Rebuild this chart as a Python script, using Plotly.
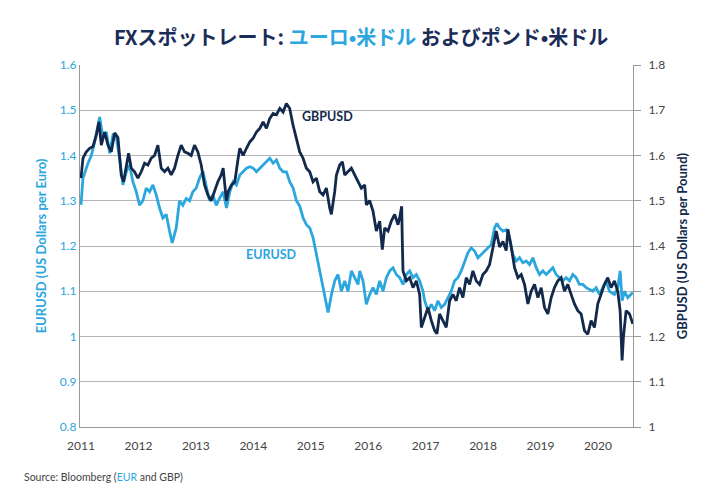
import plotly.graph_objects as go

# ---- data (fractional year, value) ----
eur_x = [2011.000, 2011.035, 2011.122, 2011.180, 2011.238, 2011.296, 2011.325, 2011.383, 2011.441, 2011.499,
         2011.557, 2011.614, 2011.672, 2011.730, 2011.788, 2011.846, 2011.904, 2011.962, 2012.020, 2012.078,
         2012.136, 2012.194, 2012.252, 2012.310, 2012.368, 2012.426, 2012.484, 2012.542, 2012.588, 2012.658,
         2012.716, 2012.774, 2012.832, 2012.890, 2012.948, 2013.006, 2013.064, 2013.122, 2013.180, 2013.238,
         2013.296, 2013.354, 2013.412, 2013.475, 2013.533, 2013.591, 2013.649, 2013.707, 2013.765, 2013.823,
         2013.881, 2013.939, 2013.997, 2014.055, 2014.113, 2014.171, 2014.229, 2014.287, 2014.345, 2014.403,
         2014.461, 2014.519, 2014.576, 2014.634, 2014.693, 2014.751, 2014.809, 2014.867, 2014.925, 2014.983,
         2015.041, 2015.099, 2015.157, 2015.215, 2015.273, 2015.302, 2015.360, 2015.418, 2015.475, 2015.533,
         2015.591, 2015.649, 2015.707, 2015.765, 2015.823, 2015.852, 2015.910, 2015.968, 2016.026, 2016.084,
         2016.142, 2016.200, 2016.258, 2016.316, 2016.374, 2016.432, 2016.490, 2016.548, 2016.606, 2016.664,
         2016.722, 2016.780, 2016.838, 2016.896, 2016.954, 2016.983, 2017.041, 2017.099, 2017.157, 2017.214,
         2017.272, 2017.330, 2017.388, 2017.446, 2017.504, 2017.562, 2017.620, 2017.678, 2017.736, 2017.794,
         2017.852, 2017.910, 2017.968, 2018.026, 2018.084, 2018.142, 2018.200, 2018.240, 2018.287, 2018.345,
         2018.403, 2018.461, 2018.519, 2018.577, 2018.635, 2018.693, 2018.751, 2018.809, 2018.867, 2018.925,
         2018.983, 2019.041, 2019.099, 2019.157, 2019.215, 2019.272, 2019.330, 2019.388, 2019.446, 2019.504,
         2019.562, 2019.620, 2019.678, 2019.736, 2019.794, 2019.852, 2019.910, 2019.968, 2020.026, 2020.084,
         2020.142, 2020.200, 2020.287, 2020.345, 2020.386, 2020.420, 2020.461, 2020.519, 2020.577, 2020.606]
eur_y = [1.291, 1.350, 1.383, 1.400, 1.430, 1.467, 1.485, 1.440, 1.452, 1.405,
         1.445, 1.440, 1.394, 1.335, 1.364, 1.379, 1.342, 1.320, 1.290, 1.300,
         1.328, 1.320, 1.335, 1.313, 1.284, 1.262, 1.270, 1.233, 1.207, 1.240,
         1.300, 1.290, 1.305, 1.300, 1.320, 1.328, 1.350, 1.365, 1.330, 1.300,
         1.313, 1.290, 1.305, 1.320, 1.284, 1.320, 1.342, 1.335, 1.357, 1.364,
         1.372, 1.375, 1.372, 1.364, 1.372, 1.379, 1.386, 1.394, 1.383, 1.390,
         1.372, 1.364, 1.364, 1.342, 1.328, 1.300, 1.288, 1.262, 1.247, 1.240,
         1.218, 1.181, 1.137, 1.108, 1.071, 1.053, 1.093, 1.123, 1.137, 1.100,
         1.123, 1.100, 1.145, 1.130, 1.115, 1.145, 1.123, 1.071, 1.093, 1.108,
         1.093, 1.123, 1.100, 1.130, 1.145, 1.152, 1.137, 1.130, 1.115, 1.137,
         1.145, 1.130, 1.137, 1.123, 1.100, 1.079, 1.057, 1.071, 1.057, 1.079,
         1.064, 1.071, 1.086, 1.100, 1.123, 1.130, 1.145, 1.167, 1.185, 1.196,
         1.189, 1.174, 1.181, 1.189, 1.196, 1.203, 1.240, 1.250, 1.240, 1.233,
         1.236, 1.218, 1.181, 1.167, 1.174, 1.163, 1.167, 1.159, 1.174, 1.152,
         1.137, 1.145, 1.137, 1.145, 1.152, 1.137, 1.130, 1.123, 1.130, 1.123,
         1.137, 1.130, 1.115, 1.115, 1.108, 1.104, 1.100, 1.108, 1.093, 1.108,
         1.123, 1.100, 1.093, 1.108, 1.145, 1.079, 1.100, 1.086, 1.093, 1.097]

gbp_x = [2011.000, 2011.035, 2011.093, 2011.151, 2011.209, 2011.267, 2011.313, 2011.354, 2011.412, 2011.470,
         2011.528, 2011.586, 2011.643, 2011.701, 2011.742, 2011.788, 2011.829, 2011.875, 2011.933, 2011.991,
         2012.049, 2012.107, 2012.165, 2012.223, 2012.281, 2012.339, 2012.397, 2012.455, 2012.513, 2012.571,
         2012.629, 2012.687, 2012.745, 2012.803, 2012.861, 2012.919, 2012.977, 2013.035, 2013.093, 2013.151,
         2013.209, 2013.267, 2013.325, 2013.383, 2013.441, 2013.475, 2013.504, 2013.533, 2013.562, 2013.620,
         2013.678, 2013.707, 2013.736, 2013.765, 2013.823, 2013.881, 2013.939, 2013.997, 2014.055, 2014.113,
         2014.171, 2014.229, 2014.287, 2014.345, 2014.403, 2014.461, 2014.519, 2014.576, 2014.634, 2014.692,
         2014.750, 2014.808, 2014.866, 2014.924, 2014.982, 2015.040, 2015.098, 2015.156, 2015.214, 2015.272,
         2015.330, 2015.359, 2015.417, 2015.447, 2015.504, 2015.551, 2015.591, 2015.649, 2015.707, 2015.765,
         2015.823, 2015.881, 2015.939, 2015.968, 2016.026, 2016.084, 2016.142, 2016.200, 2016.246, 2016.287,
         2016.345, 2016.403, 2016.461, 2016.519, 2016.548, 2016.583, 2016.594, 2016.606, 2016.664, 2016.722,
         2016.780, 2016.838, 2016.896, 2016.925, 2016.983, 2017.041, 2017.099, 2017.157, 2017.197, 2017.243,
         2017.301, 2017.359, 2017.417, 2017.475, 2017.533, 2017.591, 2017.649, 2017.707, 2017.765, 2017.823,
         2017.881, 2017.939, 2017.997, 2018.055, 2018.113, 2018.171, 2018.229, 2018.287, 2018.345, 2018.403,
         2018.432, 2018.490, 2018.548, 2018.606, 2018.664, 2018.722, 2018.780, 2018.838, 2018.896, 2018.954,
         2019.012, 2019.070, 2019.128, 2019.186, 2019.243, 2019.301, 2019.359, 2019.417, 2019.475, 2019.533,
         2019.591, 2019.649, 2019.707, 2019.765, 2019.823, 2019.881, 2019.939, 2019.997, 2020.055, 2020.113,
         2020.171, 2020.229, 2020.287, 2020.345, 2020.386, 2020.420, 2020.443, 2020.490, 2020.548, 2020.606]
gbp_y = [1.550, 1.594, 1.608, 1.616, 1.620, 1.645, 1.674, 1.623, 1.652, 1.623,
         1.608, 1.650, 1.640, 1.557, 1.542, 1.572, 1.605, 1.572, 1.564, 1.550,
         1.564, 1.583, 1.579, 1.594, 1.600, 1.623, 1.572, 1.564, 1.572, 1.557,
         1.572, 1.600, 1.623, 1.608, 1.605, 1.600, 1.623, 1.608, 1.579, 1.535,
         1.513, 1.500, 1.520, 1.542, 1.557, 1.572, 1.535, 1.500, 1.520, 1.535,
         1.542, 1.572, 1.594, 1.616, 1.600, 1.616, 1.630, 1.638, 1.652, 1.660,
         1.674, 1.660, 1.682, 1.693, 1.690, 1.704, 1.696, 1.715, 1.704, 1.667,
         1.638, 1.608, 1.594, 1.572, 1.564, 1.542, 1.550, 1.520, 1.513, 1.528,
         1.484, 1.470, 1.520, 1.557, 1.579, 1.586, 1.557, 1.564, 1.572, 1.557,
         1.542, 1.528, 1.535, 1.491, 1.500, 1.477, 1.433, 1.455, 1.392, 1.440,
         1.433, 1.455, 1.470, 1.447, 1.462, 1.488, 1.410, 1.345, 1.323, 1.330,
         1.308, 1.323, 1.293, 1.220, 1.242, 1.264, 1.235, 1.213, 1.206, 1.250,
         1.235, 1.220, 1.279, 1.293, 1.279, 1.308, 1.286, 1.330, 1.315, 1.345,
         1.323, 1.315, 1.337, 1.345, 1.359, 1.396, 1.433, 1.398, 1.410, 1.390,
         1.437, 1.398, 1.352, 1.330, 1.337, 1.315, 1.272, 1.300, 1.315, 1.286,
         1.308, 1.264, 1.250, 1.286, 1.308, 1.323, 1.330, 1.300, 1.315, 1.293,
         1.272, 1.257, 1.250, 1.213, 1.205, 1.235, 1.220, 1.272, 1.293, 1.315,
         1.330, 1.308, 1.323, 1.300, 1.257, 1.147, 1.198, 1.257, 1.250, 1.228]

year_ticks = [2011, 2012, 2013, 2014, 2015, 2016, 2017, 2018, 2019, 2020]
eur_ticks = [0.8, 0.9, 1.0, 1.1, 1.2, 1.3, 1.4, 1.5, 1.6]
eur_tick_text = ["0.8", "0.9", "1", "1.1", "1.2", "1.3", "1.4", "1.5", "1.6"]
gbp_ticks = [1.0, 1.1, 1.2, 1.3, 1.4, 1.5, 1.6, 1.7, 1.8]
gbp_tick_text = ["1", "1.1", "1.2", "1.3", "1.4", "1.5", "1.6", "1.7", "1.8"]

LIGHT = "#2ba6de"
NAVY = "#13294b"
GRID = "#b4b4b4"
TXT = "#444444"
FONT = "Lato"

fig = go.Figure()
fig.add_trace(go.Scatter(x=eur_x, y=eur_y, mode="lines", name="EURUSD",
                         line=dict(color=LIGHT, width=2.8), yaxis="y"))
fig.add_trace(go.Scatter(x=gbp_x, y=gbp_y, mode="lines", name="GBPUSD",
                         line=dict(color=NAVY, width=2.8), yaxis="y2"))

fig.update_layout(
    width=720, height=500,
    margin=dict(l=72, r=95, t=57, b=81),
    paper_bgcolor="white", plot_bgcolor="white",
    showlegend=False,
    font=dict(family=FONT, color=TXT, size=12),
    xaxis=dict(range=[2010.983, 2020.61], tickvals=year_ticks,
               ticktext=[str(v) for v in year_ticks],
               showgrid=False, zeroline=False, showline=True, linecolor="#999999",
               linewidth=1, ticks="", tickfont=dict(size=12, color=TXT),
               ticklabelstandoff=8),
    yaxis=dict(range=[0.8, 1.6], tickvals=eur_ticks, ticktext=eur_tick_text,
               showgrid=True, gridcolor=GRID, gridwidth=1, zeroline=False,
               showline=True, linecolor="#999999", linewidth=1, ticks="",
               tickfont=dict(size=12, color=LIGHT),
               title=dict(text="<b>EURUSD (US Dollars per Euro)</b>",
                          font=dict(size=13, color=LIGHT, family=FONT), standoff=10)),
    yaxis2=dict(range=[1.0, 1.8], tickvals=gbp_ticks, ticktext=gbp_tick_text,
                overlaying="y", side="right", showgrid=False, zeroline=False,
                showline=True, linecolor="#999999", linewidth=1,
                ticks="outside", ticklen=7, tickcolor="#999999",
                tickfont=dict(size=12, color=TXT), ticklabelstandoff=5,
                title=dict(text="<b>GBPUSD (US Dollars per Pound)</b>",
                           font=dict(size=13, color=NAVY, family=FONT), standoff=13)),
)

fig.add_annotation(
    xref="paper", yref="paper", x=0.5, y=1.0, yshift=29, xshift=4,
    xanchor="center", yanchor="middle", showarrow=False,
    text=("<b>FXスポットレート: <span style='color:%s'>ユーロ•米ドル</span> "
          "およびポンド•米ドル</b>") % LIGHT,
    font=dict(family="Noto Sans CJK JP", size=20, color="#1b2c58"),
)
fig.add_annotation(x=2015.3, y=1.487, xref="x", yref="y", showarrow=False,
                   text="<b>GBPUSD</b>", font=dict(size=12.5, color=NAVY, family=FONT))
fig.add_annotation(x=2014.32, y=1.182, xref="x", yref="y", showarrow=False,
                   text="<b>EURUSD</b>", font=dict(size=12.5, color=LIGHT, family=FONT))
fig.add_annotation(xref="paper", yref="paper", x=0, xshift=-58, y=0, yshift=-50,
                   xanchor="left", yanchor="middle", showarrow=False,
                   text="Source: Bloomberg (<span style='color:%s'>EUR</span> and GBP)" % LIGHT,
                   font=dict(size=10.5, color=TXT, family=FONT))

fig.write_html("out.html")
